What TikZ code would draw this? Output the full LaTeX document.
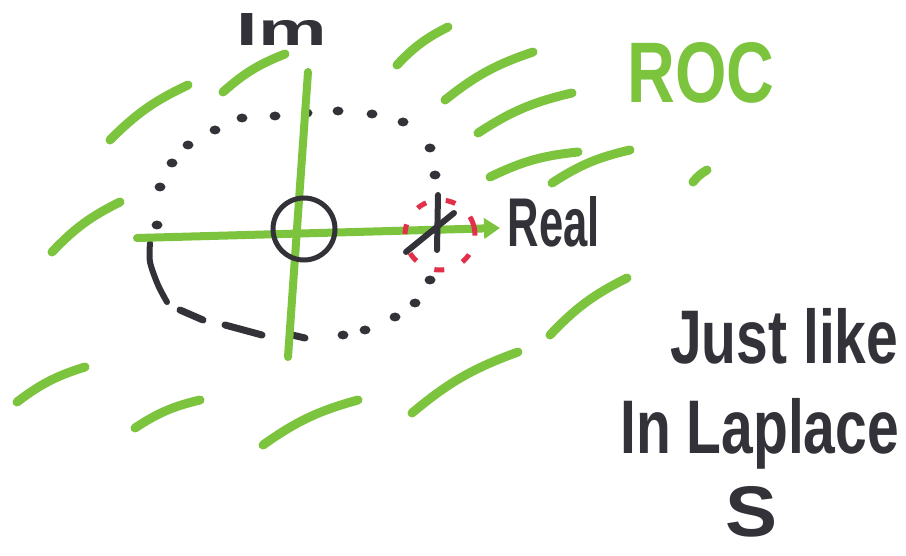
\documentclass[tikz,border=0pt]{standalone}
\usepackage{fontspec}
\setmainfont{Liberation Sans}
\usetikzlibrary{arrows.meta}
\definecolor{mkgreen}{RGB}{124,196,62}
\definecolor{mkblack}{RGB}{50,50,56}
\definecolor{mkred}{RGB}{226,48,74}
\tikzset{
  hatch/.style={mkgreen, line width=9pt, line cap=round},
  axisline/.style={mkgreen, line width=8pt, line cap=round},
  dashmark/.style={mkblack, line width=7pt, line cap=round},
  hand/.style={mkblack, inner sep=0pt, font=\bfseries},
  bigfont/.style={font=\fontsize{76}{76}\selectfont\bfseries},
}
\begin{document}
\begin{tikzpicture}[x=1pt,y=-1pt]
\path[use as bounding box, clip] (0,0) rectangle (906,556);
\fill[white] (0,0) rectangle (906,556);

% hatching (outside ROC)
\foreach \ax/\ay/\bx/\by in {110/140/188/85, 223/92/285/54, 397/65/448/27,
  445/100/533/52, 478/133/572/93, 490/177/578/152, 552/183/630/150,
  693/182/707/170, 52/252/120/202, 17/402/85/367, 135/428/200/400,
  263/445/358/400, 412/413/518/352, 550/335/627/278}
  \draw[hatch] (\ax,\ay) to[bend left=10] (\bx,\by);

% ROC boundary (dotted / dashed)
\foreach \x/\y in {157/225, 160/187, 172/163, 188/145, 215/130, 242/118,
  275/116, 307/113, 338/111, 372/114, 403/122, 430/148, 435/175,
  430/280, 415/303, 395/317, 365/330, 343/335}
  \fill[mkblack] (\x,\y) ellipse[x radius=5.5, y radius=4.5];
\draw[dashmark, line width=6pt] plot[smooth] coordinates {(150,243) (150,262) (158,285) (167,302)};
\draw[dashmark] (180,310) -- (203,320);
\draw[dashmark] (225,325) -- (262,335);
\draw[dashmark] (292,335) -- (305,338);

% axes
\coordinate (xl) at (137,238);
\coordinate (xr) at (500,228);
\coordinate (yt) at (308,72);
\coordinate (yb) at (288,357);
\draw[axisline] (yt) -- (yb);
\draw[axisline, -{Triangle[length=16pt,width=20pt]}] (xl) -- (xr);

% zero at origin
\node[circle, draw=mkblack, line width=5pt, minimum size=62pt, inner sep=0pt] (zero) at (304,229) {};

% pole
\node[circle, draw=mkred, line width=5pt, dash pattern=on 10pt off 20pt, minimum size=70pt, inner sep=0pt, rotate=15] (pole) at (440,235) {};
\draw[dashmark, line width=6pt] (438,195) -- (437,250);
\draw[dashmark, line width=6pt] (406,252) -- (454,213);

% labels
\node[hand] (im) at (282,30) {\resizebox{90pt}{32pt}{Im}};
\node[hand] (real) at (554,222) {\resizebox{92pt}{50pt}{Real}};
\node[hand, mkgreen] (roc) at (701,73) {\resizebox{147pt}{60pt}{ROC}};
\node[hand, bigfont, anchor=base west] (just) at (670,363) {\scalebox{0.75}[1]{Just like}};
\node[hand, bigfont, anchor=base west] (lap) at (620,453) {\scalebox{0.75}[1]{In Laplace}};
\node[hand] (s) at (752,512) {\resizebox{52pt}{50pt}{S}};
\end{tikzpicture}
\end{document}
